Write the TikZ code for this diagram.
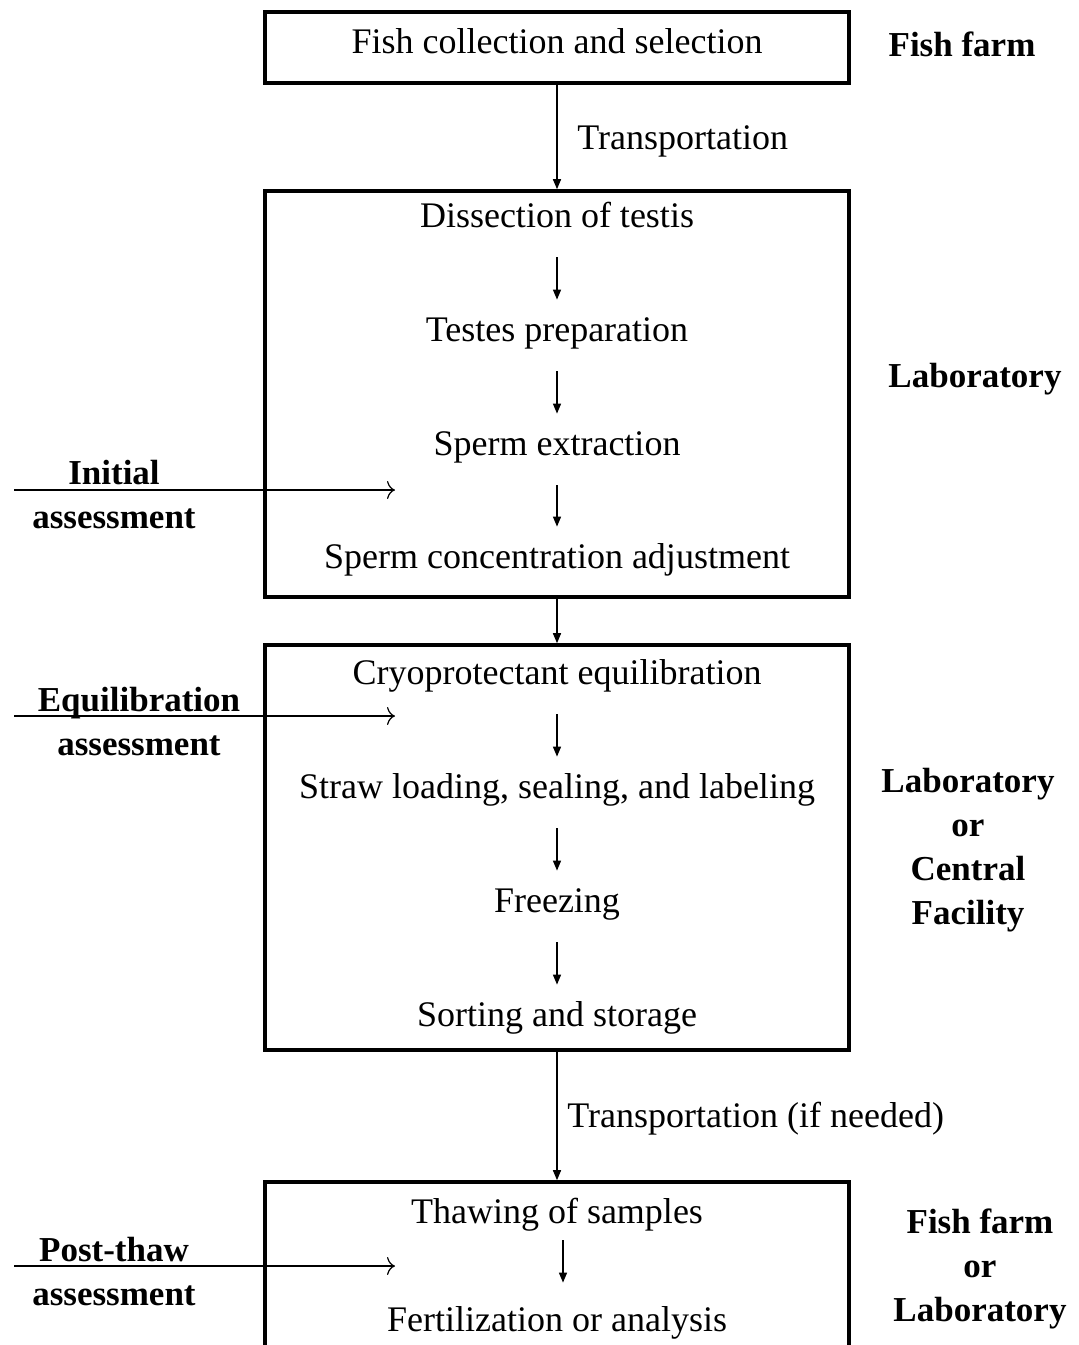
\documentclass[tikz,border=0pt]{standalone}
\usepackage{fontspec}
\setmainfont{Liberation Serif}
\usetikzlibrary{arrows.meta}

\begin{document}
\begin{tikzpicture} [x=0.5pt, y=-0.5pt,
            frame/.style={draw, line width=1.8pt, minimum width=292pt, inner sep=0pt},
            stage/.style={font=\fontsize{18}{20}\selectfont, inner sep=0pt, text height=14pt, text depth=3pt},
            site/.style={font=\fontsize{17.5}{22}\selectfont\bfseries, align=center, inner sep=0pt},
            flow/.style={-{Triangle[length=5pt,width=4pt]}, line width=0.7pt},
            inner/.style={flow, shorten <=12pt, shorten >=6.5pt},
            check/.style={-{To[length=4pt,width=9pt]}, line width=0.6pt}]
            \useasboundingbox (0,0) rectangle (1079,1345);
            \clip (0,0) rectangle (1079,1345);

            \node[frame, minimum height=35.5pt] (farm) at (557, 47.5)   {};
            \node[frame, minimum height=203pt]  (lab)  at (557, 394)    {};
            \node[frame, minimum height=202.5pt] (cryo) at (557, 847.5) {};
            \node[frame, minimum height=100pt]  (thaw) at (557, 1282)   {};

            \node[stage] (collect)  at (557, 42)   {Fish collection and selection};
            \node[stage] (dissect)  at (557, 216)  {Dissection of testis};
            \node[stage] (prep)     at (557, 330)  {Testes preparation};
            \node[stage] (extract)  at (557, 444)  {Sperm extraction};
            \node[stage] (adjust)   at (557, 557)  {Sperm concentration adjustment};
            \node[stage] (equil)    at (557, 673)  {Cryoprotectant equilibration};
            \node[stage] (straw)    at (557, 787)  {Straw loading, sealing, and labeling};
            \node[stage] (freeze)   at (557, 901)  {Freezing};
            \node[stage] (store)    at (557, 1015) {Sorting and storage};
            \node[stage] (thawing)  at (557, 1212) {Thawing of samples};
            \node[stage] (fert)     at (557, 1320) {Fertilization or analysis};

            \node[stage, anchor=west] (trans)  at (577, 138)  {Transportation};
            \node[stage, anchor=west] (trans2) at (567, 1116) {Transportation (if needed)};

            \draw[flow] (farm) -- (lab);
            \draw[flow] (lab) -- (cryo);
            \draw[flow] (cryo) -- (thaw);

            \draw[inner] (dissect) -- (prep);
            \draw[inner] (prep) -- (extract);
            \draw[inner] (extract) -- (adjust);
            \draw[inner] (equil) -- (straw);
            \draw[inner] (straw) -- (freeze);
            \draw[inner] (freeze) -- (store);
            \draw[flow, shorten <=5.5pt, shorten >=10pt] ([xshift=3pt]thawing.south) -- ([xshift=3pt]fert.north);

            \node[site] (initial)  at (114, 495)  {Initial\\assessment};
            \node[site] (equiass)  at (139, 722)  {Equilibration\\assessment};
            \node[site] (postthaw) at (114, 1272) {Post-thaw\\assessment};

            \coordinate (initfrom) at (14, 490);  \coordinate (initto) at (395, 490);
            \coordinate (equifrom) at (14, 716);  \coordinate (equito) at (395, 716);
            \coordinate (postfrom) at (14, 1266); \coordinate (postto) at (395, 1266);
            \draw[check] (initfrom) -- (initto);
            \draw[check] (equifrom) -- (equito);
            \draw[check] (postfrom) -- (postto);

            \node[site] (sitefarm)    at (962, 44)   {Fish farm};
            \node[site] (sitelab)     at (975, 379)  {Laboratory};
            \node[site] (sitecentral) at (968, 850)  {Laboratory\\or\\Central\\Facility};
            \node[site] (sitelast)    at (980, 1269) {Fish farm\\or\\Laboratory};
        \end{tikzpicture}
\end{document}
